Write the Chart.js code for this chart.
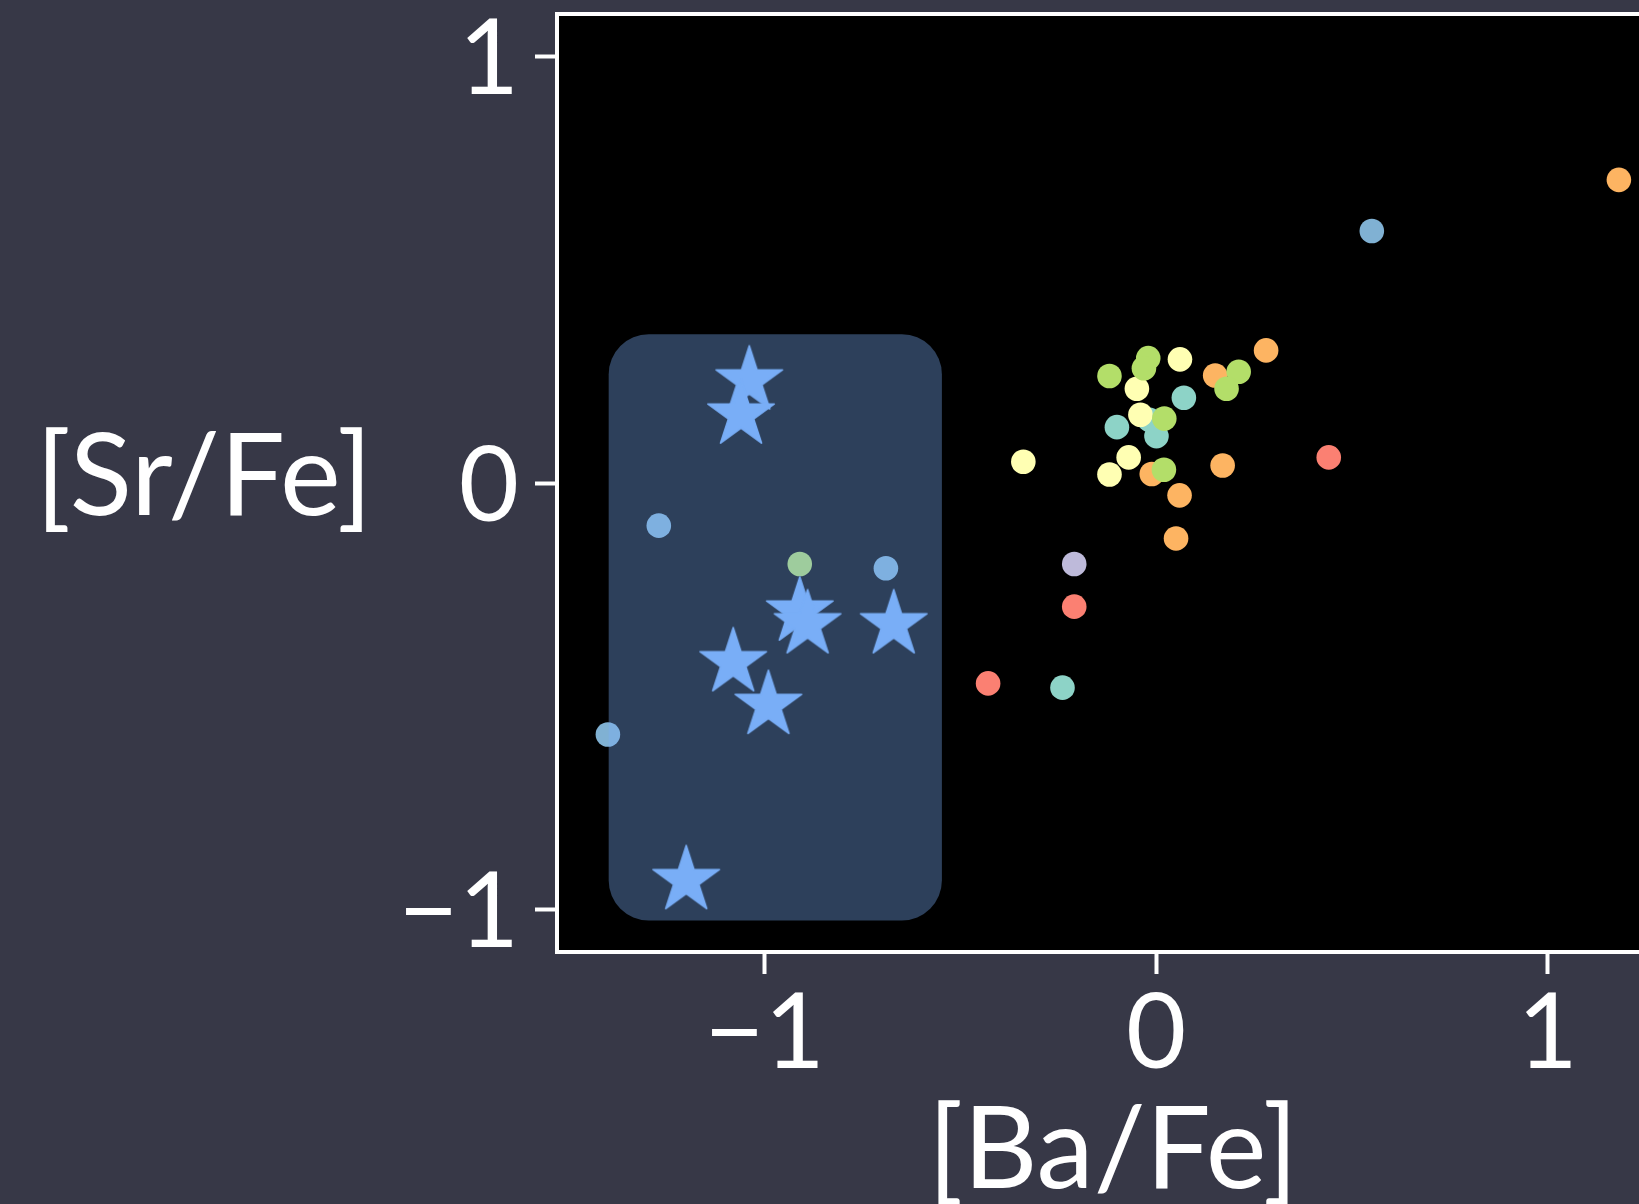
<!DOCTYPE html>
<html>
<head>
<meta charset="utf-8">
<title>[Sr/Fe] vs [Ba/Fe]</title>
<script src="https://cdn.jsdelivr.net/npm/chart.js@4.4.1/dist/chart.umd.min.js"></script>
<style>
  html, body { margin: 0; padding: 0; overflow: hidden; background: #373847; }
  canvas { display: block; }
</style>
</head>
<body>
<canvas id="chart" width="1700" height="1204"></canvas>
<script>
// [Ba/Fe], [Sr/Fe] pairs, one list per colour group
const tealPts = [[0.071, 0.200], [-0.017, 0.148], [0.001, 0.110], [-0.100, 0.131], [-0.239, -0.480]];
const yellowPts = [[0.061, 0.290], [-0.049, 0.221], [-0.040, 0.160], [-0.339, 0.050], [-0.070, 0.060], [-0.119, 0.020]];
const lavenderPts = [[-0.209, -0.190]];
const salmonPts = [[0.441, 0.060], [-0.209, -0.290], [-0.429, -0.470]];
const bluePts = [[0.551, 0.591], [-1.270, -0.100], [-0.690, -0.200], [-1.400, -0.590]];
const orangePts = [[0.281, 0.311], [0.151, 0.252], [-0.011, 0.021], [0.170, 0.041], [0.060, -0.029], [0.051, -0.130], [1.182, 0.711]];
const greenPts = [[-0.020, 0.293], [-0.031, 0.269], [-0.119, 0.251], [0.211, 0.261], [0.180, 0.221], [0.021, 0.151], [0.020, 0.031], [-0.910, -0.190]];
const starPts = [[-1.039, 0.240], [-1.060, 0.160], [-0.910, -0.302], [-0.890, -0.332], [-0.670, -0.332], [-1.080, -0.421], [-0.990, -0.521], [-1.200, -0.932]];

// highlighted region (data units)
const boxBa = [-1.398, -0.547];
const boxSr = [-1.026, 0.349];

const tickValues = [-1, 0, 1];
const tickLabels = ["\u22121", "0", "1"];

const xTitle = "[Ba/Fe]";
const yTitle = "[Sr/Fe]";

const starColor = "#79aef7";

// filled 5-point star marker, like matplotlib "*"
function makeStar(R) {
    const c = document.createElement("canvas");
    const s = Math.ceil(R * 2 + 6);
    c.width = s;
    c.height = s;
    const g = c.getContext("2d");
    g.translate(s / 2, s / 2);
    g.beginPath();
    for (let i = 0; i < 10; i++) {
        const r = i % 2 ? R * 0.382 : R;
        const a = -Math.PI / 2 + i * Math.PI / 5;
        g.lineTo(r * Math.cos(a), r * Math.sin(a));
    }
    g.closePath();
    g.fillStyle = starColor;
    g.strokeStyle = starColor;
    g.lineJoin = "round";
    g.lineWidth = 1.5;
    g.fill();
    g.stroke();
    return c;
}

const toXY = pts => pts.map(p => ({x: p[0], y: p[1]}));

const dot = (label, pts, color, order) => ({
    label,
    data: toXY(pts),
    backgroundColor: color,
    borderWidth: 0,
    pointRadius: 12.3,
    order
});

const frame = {
    id: "frame",
    beforeDraw(chart) {
        const {ctx, chartArea: a} = chart;
        ctx.save();
        ctx.fillStyle = "#000";
        ctx.fillRect(a.left, a.top, a.right - a.left, a.bottom - a.top);
        ctx.restore();
    },
    beforeDatasetDraw(chart, args) {
        if (chart.data.datasets[args.index].label !== "stars") return;
        const {ctx, scales: {x, y}} = chart;
        const l = x.getPixelForValue(boxBa[0]), r = x.getPixelForValue(boxBa[1]);
        const t = y.getPixelForValue(boxSr[1]), b = y.getPixelForValue(boxSr[0]);
        ctx.save();
        ctx.beginPath();
        ctx.roundRect(l, t, r - l, b - t, 40);
        ctx.fillStyle = "rgba(121, 174, 247, 0.37)";
        ctx.fill();
        ctx.restore();
    },
    afterDraw(chart) {
        const {ctx, chartArea: a} = chart;
        ctx.save();
        ctx.strokeStyle = "#fff";
        ctx.lineWidth = 4;
        ctx.strokeRect(a.left, a.top, a.right - a.left, a.bottom - a.top);
        // horizontal y title, left of the tick labels
        ctx.fillStyle = "#fff";
        ctx.font = "115px Lato";
        ctx.textAlign = "center";
        ctx.textBaseline = "alphabetic";
        ctx.fillText(yTitle, 204, (a.top + a.bottom) / 2 + 32);
        ctx.restore();
    }
};

const tickFont = {family: "Lato", size: 104, lineHeight: 1.17};

new Chart(document.getElementById("chart"), {
    type: "scatter",
    data: {
        datasets: [
            {
                label: "stars",
                data: toXY(starPts),
                pointStyle: makeStar(35),
                pointRadius: 35,
                order: 0
            },
            dot("green", greenPts, "#b3de69", 1),
            dot("yellow", yellowPts, "#ffffb3", 2),
            dot("orange", orangePts, "#fdb462", 3),
            dot("blue", bluePts, "#80b1d3", 4),
            dot("salmon", salmonPts, "#fb8072", 5),
            dot("lavender", lavenderPts, "#bebada", 6),
            dot("teal", tealPts, "#8dd3c7", 7)
        ]
    },
    options: {
        responsive: false,
        animation: false,
        events: [],
        layout: {
            autoPadding: false,
            padding: {top: 14, right: 31, left: 0, bottom: 0}
        },
        plugins: {
            legend: {display: false},
            tooltip: {enabled: false}
        },
        scales: {
            x: {
                type: "linear",
                min: -1.53,
                max: 1.31,
                afterBuildTicks: s => { s.ticks = tickValues.map(v => ({value: v})); },
                afterFit: s => {
                    s.height = 252;
                    s.paddingLeft = 0;
                    s.paddingRight = 0;
                },
                border: {display: false},
                grid: {
                    display: true,
                    drawOnChartArea: false,
                    drawTicks: true,
                    tickLength: 22,
                    tickWidth: 4,
                    tickColor: "#fff"
                },
                ticks: {
                    color: "#fff",
                    font: tickFont,
                    padding: 0,
                    maxRotation: 0,
                    autoSkip: false,
                    callback: v => tickLabels[tickValues.indexOf(v)]
                },
                title: {
                    display: true,
                    text: xTitle,
                    color: "#fff",
                    font: {family: "Lato", size: 115, lineHeight: 0.92},
                    padding: 0
                }
            },
            y: {
                type: "linear",
                min: -1.1,
                max: 1.1,
                afterBuildTicks: s => { s.ticks = tickValues.map(v => ({value: v})); },
                afterFit: s => {
                    s.width = 557;
                    s.paddingTop = 0;
                    s.paddingBottom = 0;
                },
                border: {display: false},
                grid: {
                    display: true,
                    drawOnChartArea: false,
                    drawTicks: true,
                    tickLength: 22,
                    tickWidth: 4,
                    tickColor: "#fff"
                },
                ticks: {
                    color: "#fff",
                    font: tickFont,
                    padding: 16,
                    labelOffset: 4,
                    autoSkip: false,
                    callback: v => tickLabels[tickValues.indexOf(v)]
                }
            }
        }
    },
    plugins: [frame]
});
</script>
</body>
</html>
